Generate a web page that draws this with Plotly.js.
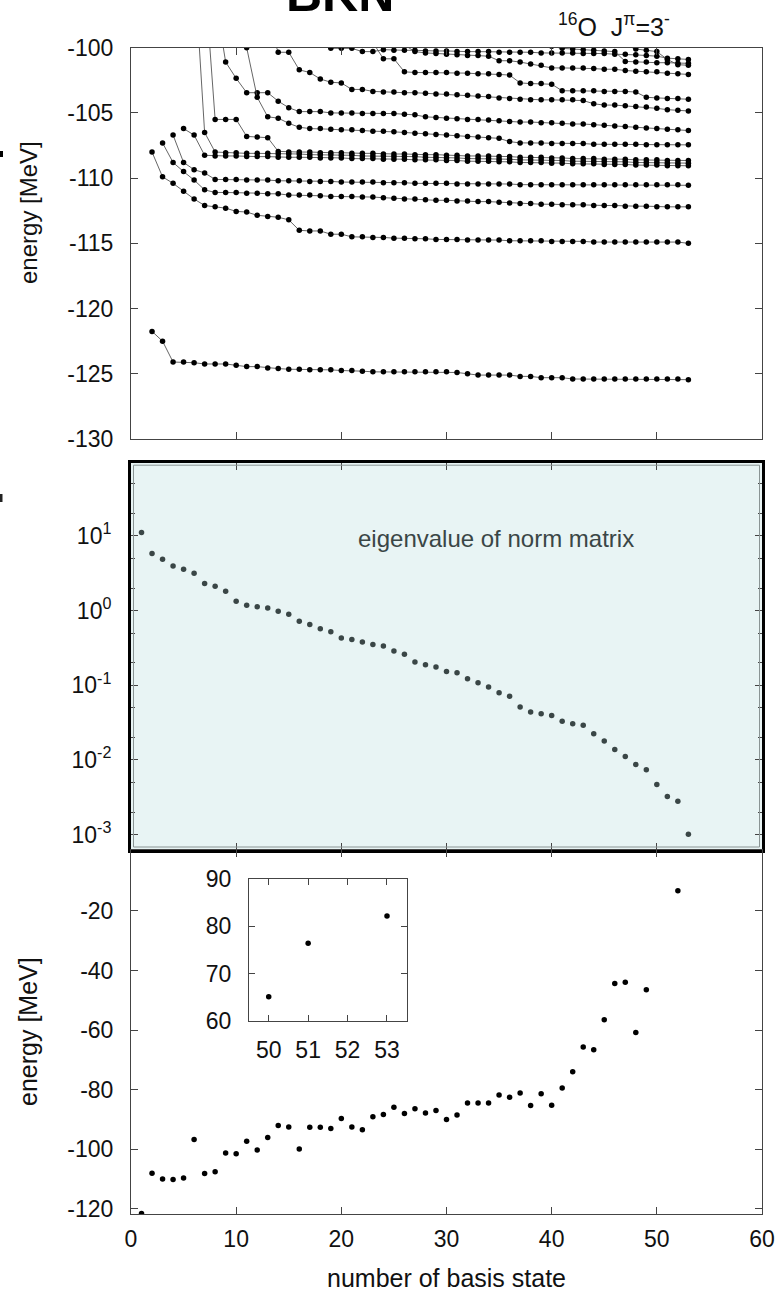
<!DOCTYPE html>
<html>
<head>
<meta charset="utf-8">
<script src="https://cdn.plot.ly/plotly-3.0.1.min.js"></script>
<style>html,body{margin:0;padding:0;background:#fff;}#chart{width:777px;height:1291px;}</style>
</head>
<body>
<div id="chart"></div>
<script>
// ---------- top panel: energy convergence curves (x = number of basis states) ----------
var curveStarts = [2, 2, 3, 4, 5, 6, 7, 8, 11, 13, 23, 26, 18, 40, 47];
var curveA = [-121.75,-122.5,-124.1,-124.1,-124.15,-124.25,-124.25,-124.25,-124.35,-124.45,-124.45,-124.55,-124.6,-124.65,-124.65,-124.7,-124.7,-124.7,-124.75,-124.75,-124.8,-124.85,-124.85,-124.85,-124.85,-124.85,-124.85,-124.85,-124.85,-124.9,-125.0,-125.1,-125.1,-125.1,-125.1,-125.2,-125.2,-125.3,-125.3,-125.3,-125.4,-125.4,-125.4,-125.4,-125.4,-125.4,-125.4,-125.4,-125.4,-125.4,-125.4,-125.45];
var curveB = [-108.0,-109.9,-110.4,-111.0,-111.6,-112.1,-112.2,-112.3,-112.55,-112.6,-112.85,-112.95,-113.0,-113.2,-114.0,-114.05,-114.05,-114.3,-114.3,-114.5,-114.5,-114.55,-114.55,-114.6,-114.6,-114.65,-114.65,-114.7,-114.7,-114.7,-114.75,-114.75,-114.75,-114.75,-114.8,-114.8,-114.8,-114.8,-114.85,-114.85,-114.85,-114.85,-114.9,-114.9,-114.9,-114.9,-114.9,-114.9,-114.9,-114.9,-114.9,-115.0];
var curveC = [-107.3,-108.8,-109.5,-110.15,-110.9,-111.1,-111.1,-111.1,-111.15,-111.15,-111.2,-111.2,-111.3,-111.3,-111.3,-111.35,-111.4,-111.4,-111.4,-111.45,-111.45,-111.5,-111.55,-111.6,-111.6,-111.65,-111.7,-111.7,-111.75,-111.75,-111.8,-111.8,-111.85,-111.9,-111.95,-111.95,-112.0,-112.0,-112.05,-112.05,-112.05,-112.1,-112.1,-112.1,-112.15,-112.15,-112.15,-112.2,-112.2,-112.2,-112.2];
var curveD = [-106.7,-108.8,-109.35,-109.6,-110.1,-110.1,-110.1,-110.15,-110.15,-110.15,-110.2,-110.2,-110.2,-110.25,-110.25,-110.25,-110.3,-110.3,-110.3,-110.3,-110.35,-110.35,-110.35,-110.4,-110.4,-110.4,-110.4,-110.45,-110.45,-110.45,-110.45,-110.45,-110.45,-110.5,-110.5,-110.5,-110.5,-110.5,-110.5,-110.5,-110.5,-110.5,-110.5,-110.5,-110.5,-110.5,-110.5,-110.5,-110.5,-110.55];
var curveE = [-106.2,-106.7,-108.25,-108.3,-108.3,-108.3,-108.35,-108.35,-108.35,-108.4,-108.4,-108.4,-108.4,-108.45,-108.45,-108.45,-108.5,-108.5,-108.5,-108.55,-108.55,-108.55,-108.6,-108.6,-108.6,-108.65,-108.65,-108.7,-108.7,-108.7,-108.75,-108.75,-108.8,-108.8,-108.8,-108.85,-108.85,-108.9,-108.9,-108.9,-108.95,-108.95,-108.95,-109.0,-109.0,-109.0,-109.05,-109.05,-109.05];
var curveF = [-93.5,-106.5,-108.0,-108.05,-108.05,-108.1,-108.1,-108.1,-108.15,-108.15,-108.15,-108.2,-108.2,-108.2,-108.25,-108.25,-108.3,-108.3,-108.3,-108.35,-108.35,-108.35,-108.4,-108.4,-108.45,-108.45,-108.5,-108.5,-108.5,-108.55,-108.55,-108.6,-108.6,-108.6,-108.65,-108.65,-108.7,-108.7,-108.7,-108.75,-108.75,-108.75,-108.8,-108.8,-108.8,-108.85,-108.85,-108.85];
var curveG = [-94.5,-105.5,-105.5,-105.5,-106.8,-106.85,-106.9,-107.95,-108.0,-108.0,-108.0,-108.05,-108.05,-108.05,-108.1,-108.1,-108.1,-108.15,-108.15,-108.15,-108.2,-108.2,-108.2,-108.25,-108.25,-108.3,-108.3,-108.3,-108.35,-108.35,-108.4,-108.4,-108.4,-108.45,-108.45,-108.5,-108.5,-108.5,-108.55,-108.55,-108.55,-108.6,-108.6,-108.6,-108.65,-108.65,-108.65];
var curveH = [-96.1,-101.1,-102.35,-103.45,-103.45,-103.45,-104.1,-104.6,-104.9,-104.9,-104.9,-105.0,-105.0,-105.0,-105.05,-105.05,-105.05,-105.05,-105.1,-105.15,-105.3,-105.35,-105.4,-105.45,-105.5,-105.5,-105.55,-105.6,-105.65,-105.7,-105.7,-105.75,-105.75,-105.8,-105.85,-105.85,-105.9,-105.95,-106.0,-106.05,-106.1,-106.15,-106.2,-106.25,-106.3,-106.35];
var curveI = [-100.0,-103.8,-105.3,-105.4,-105.8,-106.1,-106.2,-106.2,-106.25,-106.3,-106.3,-106.35,-106.4,-106.4,-106.45,-106.5,-106.55,-106.6,-106.65,-106.7,-106.75,-106.8,-106.85,-106.9,-106.95,-107.2,-107.3,-107.3,-107.3,-107.35,-107.35,-107.35,-107.35,-107.4,-107.4,-107.4,-107.4,-107.4,-107.45,-107.45,-107.45,-107.45,-107.45];
var curveJ = [-98.0,-100.35,-100.35,-101.7,-101.9,-102.4,-102.65,-102.7,-103.2,-103.2,-103.35,-103.4,-103.4,-103.45,-103.45,-103.5,-103.55,-103.55,-103.6,-103.65,-103.7,-103.75,-103.85,-103.9,-103.95,-104.0,-104.0,-104.0,-104.0,-104.0,-104.05,-104.3,-104.4,-104.4,-104.45,-104.5,-104.55,-104.65,-104.75,-104.8,-104.85];
var curveK = [-99.6,-100.85,-100.85,-101.85,-101.9,-101.9,-101.9,-101.9,-101.95,-101.95,-102.0,-102.0,-102.05,-102.1,-102.7,-102.75,-102.75,-102.8,-103.3,-103.3,-103.3,-103.3,-103.35,-103.35,-103.35,-103.4,-103.8,-103.85,-103.9,-103.9,-103.95];
var curveL = [-99.8,-100.3,-100.4,-100.45,-100.5,-100.55,-100.6,-100.6,-100.65,-101.0,-101.0,-101.1,-101.25,-101.35,-101.55,-101.55,-101.55,-101.55,-101.6,-101.65,-101.65,-101.75,-101.8,-101.85,-101.85,-101.95,-102.0,-102.05];
var curveO = [-99.7,-100.05,-100.05,-100.05,-100.3,-100.3,-100.15,-100.2,-100.2,-100.2,-100.25,-100.25,-100.25,-100.3,-100.3,-100.3,-100.3,-100.35,-100.35,-100.35,-100.35,-100.4,-100.4,-100.4,-100.4,-100.45,-100.45,-100.45,-100.5,-100.5,-100.55,-100.6,-100.65,-100.8,-100.85,-100.9];
var curveN = [-99.9,-100.05,-100.1,-100.15,-100.2,-100.25,-100.3,-101.05,-101.1,-101.1,-101.15,-101.15,-101.2,-101.2];
var curveM = [-99.8,-100.1,-100.2,-100.3,-100.9,-101.3,-101.35];
var topTickVals = [-130,-125,-120,-115,-110,-105,-100];
var topTickText = ['-130','-125','-120','-115','-110','-105','-100'];

// ---------- middle panel: eigenvalues of the norm matrix ----------
var normEig = [11.1,5.8,4.86,3.96,3.58,3.16,2.3,2.12,1.81,1.33,1.18,1.12,1.08,0.98,0.89,0.72,0.65,0.57,0.52,0.43,0.41,0.38,0.35,0.335,0.287,0.259,0.205,0.188,0.175,0.153,0.147,0.122,0.108,0.0946,0.0794,0.071,0.051,0.0438,0.0415,0.0394,0.0328,0.0305,0.029,0.0224,0.0179,0.0138,0.0111,0.0087,0.0074,0.00469,0.00324,0.0028,0.00101];
var normTickVals = [0.001,0.01,0.1,1,10];
var normTickText = ['10<sup>-3</sup>','10<sup>-2</sup>','10<sup>-1</sup>','10<sup>0</sup>','10<sup>1</sup>'];
var normMinorVals = [0.002,0.005,0.02,0.05,0.2,0.5,2,5,20,50];

// ---------- bottom panel: energy of each basis state ----------
var basisX = [1,2,3,4,5,6,7,8,9,10,11,12,13,14,15,16,17,18,19,20,21,22,23,24,25,26,27,28,29,30,31,32,33,34,35,36,37,38,39,40,41,42,43,44,45,46,47,48,49,52];
var basisE = [-121.5,-108.0,-110.0,-110.1,-109.6,-96.7,-108.1,-107.5,-101.2,-101.5,-97.3,-100.2,-96.0,-92.0,-92.5,-99.9,-92.6,-92.6,-93.0,-89.7,-92.5,-93.4,-89.1,-88.3,-85.9,-88.0,-86.4,-87.8,-87.0,-90.0,-88.5,-84.5,-84.5,-84.5,-81.8,-82.5,-81.1,-85.3,-81.4,-85.2,-79.4,-74.0,-65.7,-66.6,-56.5,-44.4,-44.0,-60.8,-46.5,-13.3];
var bottomTickVals = [-120,-100,-80,-60,-40,-20];
var bottomTickText = ['-120','-100','-80','-60','-40','-20'];
var insetX = [50,51,53];
var insetE = [65.1,76.4,82.2];

// ---------- build ----------
var W = 777, H = 1291;
function px(x){return x/W;}
function py(y){return 1 - y/H;}

var curves = [curveA,curveB,curveC,curveD,curveE,curveF,curveG,curveH,curveI,curveJ,curveK,curveL,curveO,curveN,curveM];
var traces = [];
curves.forEach(function(vals, i){
  traces.push({
    x: vals.map(function(v, j){return curveStarts[i] + j;}),
    y: vals, xaxis:'x', yaxis:'y', type:'scatter', mode:'lines+markers',
    line:{color:'#555', width:0.9},
    marker:{color:'#000', size:5.5},
    hoverinfo:'skip'
  });
});
traces.push({
  x: normEig.map(function(v, j){return j + 1;}), y: normEig,
  xaxis:'x2', yaxis:'y2', type:'scatter', mode:'markers',
  marker:{color:'#3a4646', size:5.5}, hoverinfo:'skip'
});
traces.push({
  x: basisX, y: basisE, xaxis:'x3', yaxis:'y3', type:'scatter', mode:'markers',
  marker:{color:'#000', size:5.5}, hoverinfo:'skip'
});
traces.push({
  x: insetX, y: insetE, xaxis:'x4', yaxis:'y4', type:'scatter', mode:'markers',
  marker:{color:'#000', size:5.5}, hoverinfo:'skip'
});

var FONT = 'Liberation Sans, Arial, Helvetica, sans-serif';
var tickFont = {family: FONT, size: 23, color: '#111'};
var xDom = [px(131), px(762)];
function baseAxis(extra){
  var a = {showgrid:false, zeroline:false, showline:true, linecolor:'#444', linewidth:1,
    ticks:'inside', ticklen:7, tickwidth:1, tickcolor:'#444', mirror:'ticks',
    tickfont: tickFont, fixedrange:true};
  for (var k in extra) a[k] = extra[k];
  return a;
}

var layout = {
  width: W, height: H, margin:{l:0,r:0,t:0,b:0}, showlegend:false,
  paper_bgcolor:'#ffffff', plot_bgcolor:'rgba(0,0,0,0)',
  font:{family: FONT, size: 23, color:'#111'},
  xaxis: baseAxis({domain:xDom, anchor:'y', range:[0,60], tickvals:[10,20,30,40,50], showticklabels:false}),
  yaxis: baseAxis({domain:[py(439), py(47.7)], anchor:'x', range:[-130,-100], tickmode:'array', tickvals:topTickVals, ticktext:topTickText, ticklabelstandoff:12}),
  xaxis2: baseAxis({domain:xDom, anchor:'y2', range:[0,60], tickvals:[10,20,30,40,50], showticklabels:false, linecolor:'#000', linewidth:3}),
  yaxis2: baseAxis({domain:[py(849.5), py(462.7)], anchor:'x2', type:'log', range:[-3.2,1.98],
    tickmode:'array', tickvals:normTickVals, ticktext:normTickText, linecolor:'#000', linewidth:3, ticklabelstandoff:12,
    minor:{tickmode:'array', tickvals:normMinorVals, ticks:'inside', ticklen:4, tickcolor:'#444', showgrid:false}}),
  xaxis3: baseAxis({domain:xDom, anchor:'y3', range:[0,60], tickvals:[0,10,20,30,40,50,60], ticklabelstandoff:4}),
  yaxis3: baseAxis({domain:[py(1214), py(850)], anchor:'x3', range:[-121.7,0.4], tickmode:'array', tickvals:bottomTickVals, ticktext:bottomTickText, ticklabelstandoff:12}),
  xaxis4: baseAxis({domain:[px(249), px(406.7)], anchor:'y4', range:[49.5,53.5], tickvals:[50,51,52,53], ticklen:6, ticklabelstandoff:8}),
  yaxis4: baseAxis({domain:[py(1021), py(879)], anchor:'x4', range:[60,90], tickvals:[60,70,80,90], ticklen:6, ticklabelstandoff:12}),
  shapes: [
    {type:'rect', xref:'x2 domain', yref:'y2 domain', x0:0, x1:1, y0:0, y1:1, fillcolor:'#e8f4f4', line:{width:0}, layer:'below'},
    {type:'rect', xref:'paper', yref:'paper', x0:px(133.5), x1:px(759.5), y0:py(847), y1:py(465.2), fillcolor:'rgba(0,0,0,0)', line:{width:1, color:'#8a9494'}},
    {type:'rect', xref:'paper', yref:'paper', x0:px(0), x1:px(3), y0:py(157), y1:py(151), fillcolor:'#000', line:{width:0}},
    {type:'rect', xref:'paper', yref:'paper', x0:px(0), x1:px(2.5), y0:py(502), y1:py(494), fillcolor:'#222', line:{width:0}}
  ],
  annotations: [
    {text:'<b>BKN</b>', xref:'paper', yref:'paper', x:px(340), y:py(24), xanchor:'center', yanchor:'bottom', showarrow:false, font:{family:FONT, size:50, color:'#000'}},
    {text:'<sup>16</sup>O  J<sup>π</sup>=3<sup>-</sup>', xref:'paper', yref:'paper', x:px(614), y:py(25), xanchor:'center', yanchor:'middle', showarrow:false, font:{family:FONT, size:25, color:'#111'}},
    {text:'energy [MeV]', xref:'paper', yref:'paper', x:px(28), y:py(213), xanchor:'center', yanchor:'middle', textangle:-90, showarrow:false, font:{family:FONT, size:24, color:'#111'}},
    {text:'eigenvalue of norm matrix', xref:'paper', yref:'paper', x:px(496), y:py(538), xanchor:'center', yanchor:'middle', showarrow:false, font:{family:FONT, size:24, color:'#3a4646'}},
    {text:'energy [MeV]', xref:'paper', yref:'paper', x:px(28), y:py(1032), xanchor:'center', yanchor:'middle', textangle:-90, showarrow:false, font:{family:FONT, size:25, color:'#111'}},
    {text:'number of basis state', xref:'paper', yref:'paper', x:px(446), y:py(1278), xanchor:'center', yanchor:'middle', showarrow:false, font:{family:FONT, size:25, color:'#111'}}
  ]
};

Plotly.newPlot('chart', traces, layout, {displayModeBar:false, staticPlot:true});
</script>
</body>
</html>
